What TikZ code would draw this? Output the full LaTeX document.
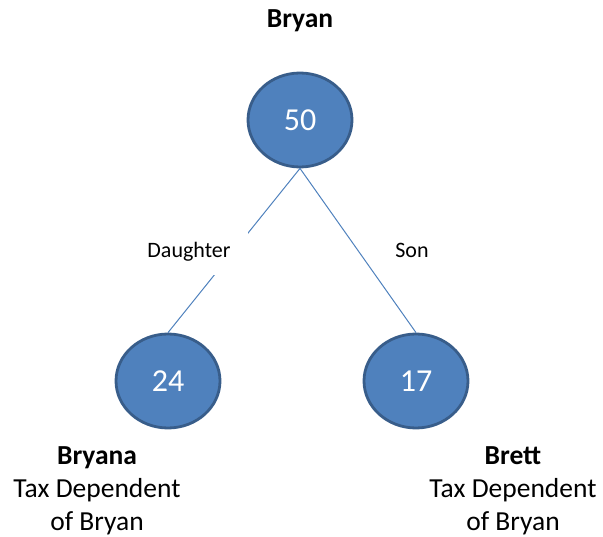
\documentclass[tikz,border=0pt]{standalone}
\usepackage{fontspec}
\setmainfont{Carlito}
\usetikzlibrary{shapes.geometric,positioning}
\definecolor{nodeblue}{HTML}{4F81BD}
\definecolor{nodeedge}{HTML}{385D8A}
\begin{document}
\begin{tikzpicture}[x=1pt, y=-1pt,
  person/.style = {shape=ellipse, draw=nodeedge, fill=nodeblue,
    line width=2.8pt, minimum width=104pt, minimum height=94pt,
    inner sep=0pt, text=white, font=\fontsize{32}{36}\selectfont},
  link/.style = {draw=nodeblue, line width=1pt},
  relation/.style = {fill=white, inner xsep=17pt, inner ysep=13pt,
    text height=15pt, text depth=5pt, font=\fontsize{22}{26}\selectfont},
  caption/.style = {align=center, inner sep=0pt,
    font=\fontsize{27.5}{33}\selectfont}]
  \useasboundingbox (0,0) rectangle (603,537);
  \node[person] (bryan) at (300,120) {50};
  \node[person] (bryana) at (168,381) {24};
  \node[person] (brett) at (416,381) {17};
  \node[caption, anchor=base] (bryanname) at (300,28) {\textbf{Bryan}};
  \node[caption, anchor=north] (bryananame) at (97,446)
    {\textbf{Bryana}\\Tax Dependent\\of Bryan};
  \node[caption, anchor=north] (brettname) at (513,446)
    {\textbf{Brett}\\Tax Dependent\\of Bryan};
  \draw[link] (bryan.south) -- node[relation, midway, xshift=-45pt, yshift=-2pt] {Daughter} (bryana.north);
  \draw[link] (bryan.south) -- node[relation, midway, xshift=54pt, yshift=-2pt] {Son} (brett.north);
\end{tikzpicture}
\end{document}
